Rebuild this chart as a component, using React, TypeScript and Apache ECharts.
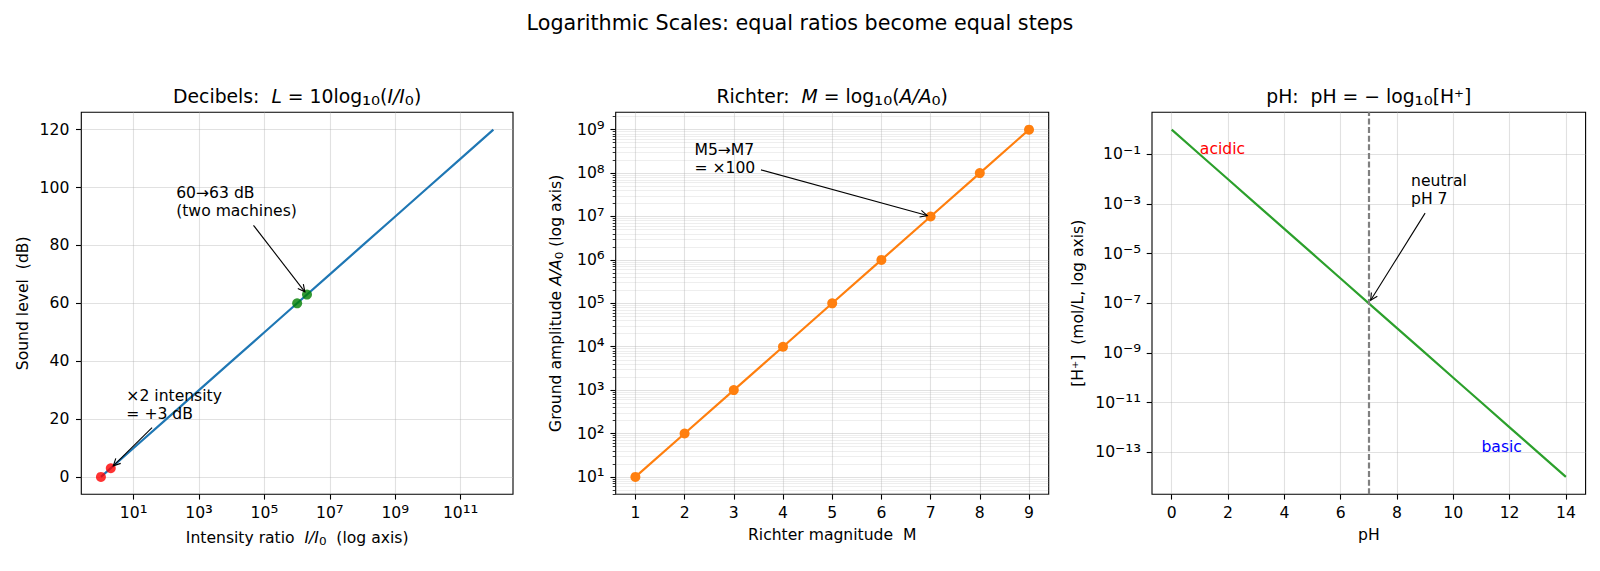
import React, { useEffect, useRef } from 'react';
import * as echarts from 'echarts';

// ---------- Panel 1: decibels ----------
const intensityRatio = [1, 1e1, 1e2, 1e3, 1e4, 1e5, 1e6, 1e7, 1e8, 1e9, 1e10, 1e11, 1e12];
const soundLevel = [0, 10, 20, 30, 40, 50, 60, 70, 80, 90, 100, 110, 120];
const doublingIntensity = [1, 2];
const doublingLevel = [0, 3.01];
const machinesIntensity = [1e6, 2e6];
const machinesLevel = [60, 63.01];
const intensityTicks = [1e1, 1e3, 1e5, 1e7, 1e9, 1e11];
const levelTicks = [0, 20, 40, 60, 80, 100, 120];

// ---------- Panel 2: Richter ----------
const magnitudes = [1, 2, 3, 4, 5, 6, 7, 8, 9];
const amplitudes = [1e1, 1e2, 1e3, 1e4, 1e5, 1e6, 1e7, 1e8, 1e9];
const magnitudeTicks = [1, 2, 3, 4, 5, 6, 7, 8, 9];
const amplitudeTicks = [1e1, 1e2, 1e3, 1e4, 1e5, 1e6, 1e7, 1e8, 1e9];
const minorMultipliers = [2, 3, 4, 5, 6, 7, 8, 9];
const minorDecades = [1, 1e1, 1e2, 1e3, 1e4, 1e5, 1e6, 1e7, 1e8, 1e9];

// ---------- Panel 3: pH ----------
const phValues = [0, 1, 2, 3, 4, 5, 6, 7, 8, 9, 10, 11, 12, 13, 14];
const hydrogen = [1, 1e-1, 1e-2, 1e-3, 1e-4, 1e-5, 1e-6, 1e-7, 1e-8, 1e-9, 1e-10, 1e-11, 1e-12, 1e-13, 1e-14];
const phTicks = [0, 2, 4, 6, 8, 10, 12, 14];
const hydrogenTicks = [1e-1, 1e-3, 1e-5, 1e-7, 1e-9, 1e-11, 1e-13];
const neutralPh = 7;

// ---------- annotations ----------
const annotations = [
  { x: 0, y: 0, lines: ['×2 intensity', '= +3 dB'], at: [6, 20], target: [2, 3.01] },
  { x: 0, y: 0, lines: ['60→63 dB', '(two machines)'], at: [200, 90], target: [2e6, 63.01] },
  { x: 1, y: 1, lines: ['M5→M7', '= ×100'], at: [2.2, 1e8], target: [7, 1e7] },
  { x: 2, y: 3, lines: ['neutral', 'pH 7'], at: [8.5, 1e-3], target: [7, 1e-7] },
];
const regionLabels = [
  { x: 2, y: 3, text: 'acidic', at: [1, 1e-1], color: '#ff0000' },
  { x: 2, y: 3, text: 'basic', at: [11, 1e-13], color: '#0000ff' },
];

const FONT = '"DejaVu Sans", sans-serif';
const FS = 15.6;
const TFS = 18.8;
const SFS = 20.7;

const SUP: Record<string, string> = {
  '0': '⁰', '1': '¹', '2': '²', '3': '³', '4': '⁴', '5': '⁵', '6': '⁶', '7': '⁷', '8': '⁸', '9': '⁹', '-': '⁻',
};
const pow10Label = (v: number) =>
  '{b|10}{p|' + String(Math.round(Math.log10(v))).split('').map((c) => SUP[c] || c).join('') + '}';
const powRich = {
  b: { fontSize: FS, fontFamily: FONT, color: '#000', lineHeight: 20 },
  p: { fontSize: FS * 1.25, fontFamily: FONT, color: '#000', lineHeight: 20 },
};

const GRIDS = [
  { left: 81.3, top: 112.3, width: 431.7, height: 382 },
  { left: 615.7, top: 112.3, width: 433, height: 382 },
  { left: 1152, top: 112.3, width: 433.6, height: 382 },
];

const majorGrid = { show: true, lineStyle: { color: 'rgba(176,176,176,0.38)', width: 1.1 } };
const minorGrid = { show: true, lineStyle: { color: 'rgba(176,176,176,0.28)', width: 0.8 } };
const labelStyle = { color: '#000', fontSize: FS, fontFamily: FONT };

function tick(values: number[], length = 5.3, width = 1.1) {
  return { show: true, customValues: values, length, inside: false, lineStyle: { color: '#000', width } };
}

function buildOption() {
  const minorAmp: number[] = [];
  minorDecades.forEach((d) => minorMultipliers.forEach((m) => minorAmp.push(m * d)));
  const ampMin = Math.pow(10, 0.6);
  const ampMax = Math.pow(10, 9.4);
  const minorInRange = minorAmp.filter((v) => v > ampMin && v < ampMax);

  const baseAxis = {
    axisLine: { show: false, onZero: false },
    minorTick: { show: false },
    minorSplitLine: { show: false },
  };

  return {
    animation: false,
    textStyle: { fontFamily: FONT },
    grid: GRIDS.map((g) => ({
      ...g,
      show: true,
      borderColor: '#000',
      borderWidth: 1.1,
      backgroundColor: 'transparent',
      containLabel: false,
      outerBoundsMode: 'none',
    })),
    xAxis: [
      {
        ...baseAxis,
        type: 'log',
        logBase: 10,
        gridIndex: 0,
        min: Math.pow(10, -0.6),
        max: Math.pow(10, 12.6),
        axisTick: tick(intensityTicks),
        axisLabel: { ...labelStyle, customValues: intensityTicks, formatter: pow10Label, rich: powRich, margin: 9 },
        splitLine: majorGrid,
      },
      {
        ...baseAxis,
        type: 'value',
        gridIndex: 1,
        min: 0.6,
        max: 9.4,
        axisTick: tick(magnitudeTicks),
        axisLabel: { ...labelStyle, customValues: magnitudeTicks, margin: 11 },
        splitLine: majorGrid,
      },
      {
        ...baseAxis,
        type: 'value',
        gridIndex: 2,
        min: -0.7,
        max: 14.7,
        axisTick: tick(phTicks),
        axisLabel: { ...labelStyle, customValues: phTicks, margin: 11 },
        splitLine: majorGrid,
      },
    ],
    yAxis: [
      {
        ...baseAxis,
        type: 'value',
        gridIndex: 0,
        position: 'left',
        min: -6,
        max: 126,
        axisTick: tick(levelTicks),
        axisLabel: { ...labelStyle, customValues: levelTicks, margin: 12 },
        splitLine: majorGrid,
      },
      {
        ...baseAxis,
        type: 'log',
        logBase: 10,
        gridIndex: 1,
        position: 'left',
        min: ampMin,
        max: ampMax,
        axisTick: tick(amplitudeTicks),
        axisLabel: { ...labelStyle, customValues: amplitudeTicks, formatter: pow10Label, rich: powRich, margin: 11 },
        splitLine: majorGrid,
      },
      {
        ...baseAxis,
        type: 'log',
        logBase: 10,
        gridIndex: 1,
        position: 'left',
        offset: 0,
        min: ampMin,
        max: ampMax,
        axisTick: tick(minorInRange, 3, 0.8),
        axisLabel: { show: false, customValues: minorInRange },
        splitLine: minorGrid,
      },
      {
        ...baseAxis,
        type: 'log',
        logBase: 10,
        gridIndex: 2,
        position: 'left',
        min: Math.pow(10, -14.7),
        max: Math.pow(10, 0.7),
        axisTick: tick(hydrogenTicks),
        axisLabel: { ...labelStyle, customValues: hydrogenTicks, formatter: pow10Label, rich: powRich, margin: 11 },
        splitLine: majorGrid,
      },
    ],
    series: [
      {
        type: 'line',
        xAxisIndex: 0,
        yAxisIndex: 0,
        data: intensityRatio.map((x, i) => [x, soundLevel[i]]),
        symbol: 'none',
        showSymbol: false,
        lineStyle: { color: '#1f77b4', width: 2.2 },
        itemStyle: { color: '#1f77b4' },
        emphasis: { disabled: true },
        silent: true,
        z: 2,
      },
      {
        type: 'scatter',
        xAxisIndex: 0,
        yAxisIndex: 0,
        data: doublingIntensity.map((x, i) => [x, doublingLevel[i]]),
        symbol: 'circle',
        symbolSize: 10,
        itemStyle: { color: '#ff0000' },
        emphasis: { disabled: true },
        silent: true,
        z: 3,
      },
      {
        type: 'scatter',
        xAxisIndex: 0,
        yAxisIndex: 0,
        data: machinesIntensity.map((x, i) => [x, machinesLevel[i]]),
        symbol: 'circle',
        symbolSize: 10,
        itemStyle: { color: '#008000' },
        emphasis: { disabled: true },
        silent: true,
        z: 3,
      },
      {
        type: 'line',
        xAxisIndex: 1,
        yAxisIndex: 1,
        data: magnitudes.map((x, i) => [x, amplitudes[i]]),
        symbol: 'circle',
        symbolSize: 10,
        showSymbol: true,
        lineStyle: { color: '#ff7f0e', width: 2.2 },
        itemStyle: { color: '#ff7f0e' },
        emphasis: { disabled: true },
        silent: true,
        z: 2,
      },
      {
        type: 'line',
        xAxisIndex: 2,
        yAxisIndex: 3,
        data: phValues.map((x, i) => [x, hydrogen[i]]),
        symbol: 'none',
        showSymbol: false,
        lineStyle: { color: '#2ca02c', width: 2.2 },
        itemStyle: { color: '#2ca02c' },
        emphasis: { disabled: true },
        silent: true,
        z: 2,
        markLine: {
          silent: true,
          symbol: ['none', 'none'],
          label: { show: false },
          lineStyle: { color: '#808080', type: [6, 2.6], width: 2.2, opacity: 1 },
          emphasis: { disabled: true },
          data: [{ xAxis: neutralPh }],
        },
      },
    ],
  };
}

function txt(x: number, y: number, text: string, opts: any = {}) {
  const { rotation, size, rich, align, vAlign, color, lineHeight } = opts;
  const fs = size || FS;
  return {
    type: 'text',
    x,
    y,
    rotation: rotation || 0,
    z: 100,
    silent: true,
    style: {
      text,
      fontSize: fs,
      fontFamily: FONT,
      fill: color || '#000',
      align: align || 'center',
      textAlign: align || 'center',
      verticalAlign: vAlign || 'middle',
      textVerticalAlign: vAlign || 'middle',
      lineHeight: lineHeight || undefined,
      rich,
    },
  };
}

function richStyles(fs: number) {
  const lh = Math.round(fs * 1.3);
  return {
    n: { fontSize: fs, fontFamily: FONT, fill: '#000', lineHeight: lh },
    i: { fontSize: fs, fontFamily: FONT, fontStyle: 'italic', fill: '#000', lineHeight: lh },
    s: { fontSize: fs * 1.2, fontFamily: FONT, fill: '#000', lineHeight: lh },
  };
}

export default function App() {
  const ref = useRef<HTMLDivElement>(null);

  useEffect(() => {
    if (!ref.current) return;
    const chart = echarts.init(ref.current, null, { renderer: 'svg' });
    chart.setOption(buildOption() as any);

    const canvas = document.createElement('canvas');
    const ctx = canvas.getContext('2d')!;
    ctx.font = `${FS}px "DejaVu Sans"`;

    const cx = (g: typeof GRIDS[number]) => g.left + g.width / 2;
    const midY = GRIDS[0].top + GRIDS[0].height / 2;

    const els: any[] = [
      txt(800, 23.4, 'Logarithmic Scales: equal ratios become equal steps', { size: SFS }),
      txt(cx(GRIDS[0]), 96.5, '{n|Decibels:  }{i|L}{n| = 10log}{s|₁₀}{n|(}{i|I/I}{s|₀}{n|)}', {
        size: TFS,
        rich: richStyles(TFS),
      }),
      txt(cx(GRIDS[1]), 96.5, '{n|Richter:  }{i|M}{n| = log}{s|₁₀}{n|(}{i|A/A}{s|₀}{n|)}', {
        size: TFS,
        rich: richStyles(TFS),
      }),
      txt(cx(GRIDS[2]), 96.5, '{n|pH:  pH = − log}{s|₁₀}{n|[H⁺]}', { size: TFS, rich: richStyles(TFS) }),
      txt(23.2, midY, 'Sound level  (dB)', { rotation: Math.PI / 2 }),
      txt(556, midY, '{n|Ground amplitude }{i|A/A}{s|₀}{n| (log axis)}', {
        rotation: Math.PI / 2,
        rich: richStyles(FS),
      }),
      txt(1078, midY, '[H⁺]  (mol/L, log axis)', { rotation: Math.PI / 2 }),
      txt(cx(GRIDS[0]), 538.3, '{n|Intensity ratio  }{i|I/I}{s|₀}{n|  (log axis)}', { rich: richStyles(FS) }),
      txt(cx(GRIDS[1]), 535, 'Richter magnitude  M'),
      txt(cx(GRIDS[2]), 535, 'pH'),
    ];

    const LH = 18;
    const toPx = (xi: number, yi: number, v: number[]) =>
      chart.convertToPixel({ xAxisIndex: xi, yAxisIndex: yi } as any, v) as number[];
    const baseOff = LH / 2 - 0.346 * FS;

    regionLabels.forEach((r) => {
      const p = toPx(r.x, r.y, r.at);
      els.push(txt(p[0], p[1] + baseOff, r.text, { align: 'left', vAlign: 'bottom', color: r.color, lineHeight: LH }));
    });

    annotations.forEach((a) => {
      const p = toPx(a.x, a.y, a.at);
      const t = toPx(a.x, a.y, a.target);
      els.push(txt(p[0], p[1] + baseOff, a.lines.join('\n'), { align: 'left', vAlign: 'bottom', lineHeight: LH }));
      const w = Math.max(...a.lines.map((l) => ctx.measureText(l).width));
      const pad = 2.9;
      const left = p[0] - pad;
      const right = p[0] + w + pad;
      const bottom = p[1] + 0.236 * FS + pad;
      const top = p[1] - (a.lines.length - 1) * LH - 0.76 * FS - pad;
      const ccx = (left + right) / 2;
      const ccy = (top + bottom) / 2;
      const dx = t[0] - ccx;
      const dy = t[1] - ccy;
      let s = Infinity;
      if (dx !== 0) s = Math.min(s, (dx > 0 ? right - ccx : left - ccx) / dx);
      if (dy !== 0) s = Math.min(s, (dy > 0 ? bottom - ccy : top - ccy) / dy);
      const L = Math.hypot(dx, dy);
      const ux = dx / L;
      const uy = dy / L;
      const sx = ccx + dx * s + ux * 2.9;
      const sy = ccy + dy * s + uy * 2.9;
      const ex = t[0] - ux * 3.5;
      const ey = t[1] - uy * 3.5;
      const hl = 7;
      const hw = 3.5;
      const nx = -uy;
      const ny = ux;
      els.push({
        type: 'line',
        z: 100,
        silent: true,
        shape: { x1: sx, y1: sy, x2: ex, y2: ey },
        style: { stroke: '#000', lineWidth: 1.1 },
      });
      els.push({
        type: 'polyline',
        z: 100,
        silent: true,
        shape: {
          points: [
            [ex - ux * hl + nx * hw, ey - uy * hl + ny * hw],
            [ex, ey],
            [ex - ux * hl - nx * hw, ey - uy * hl - ny * hw],
          ],
        },
        style: { stroke: '#000', fill: null, lineWidth: 1.1 },
      });
    });

    chart.setOption({ graphic: { elements: els } } as any);

    return () => {
      chart.dispose();
    };
  }, []);

  return (
    <div
      ref={ref}
      style={{ position: 'absolute', left: 0, top: 0, width: 1600, height: 571, background: '#fff' }}
    />
  );
}
